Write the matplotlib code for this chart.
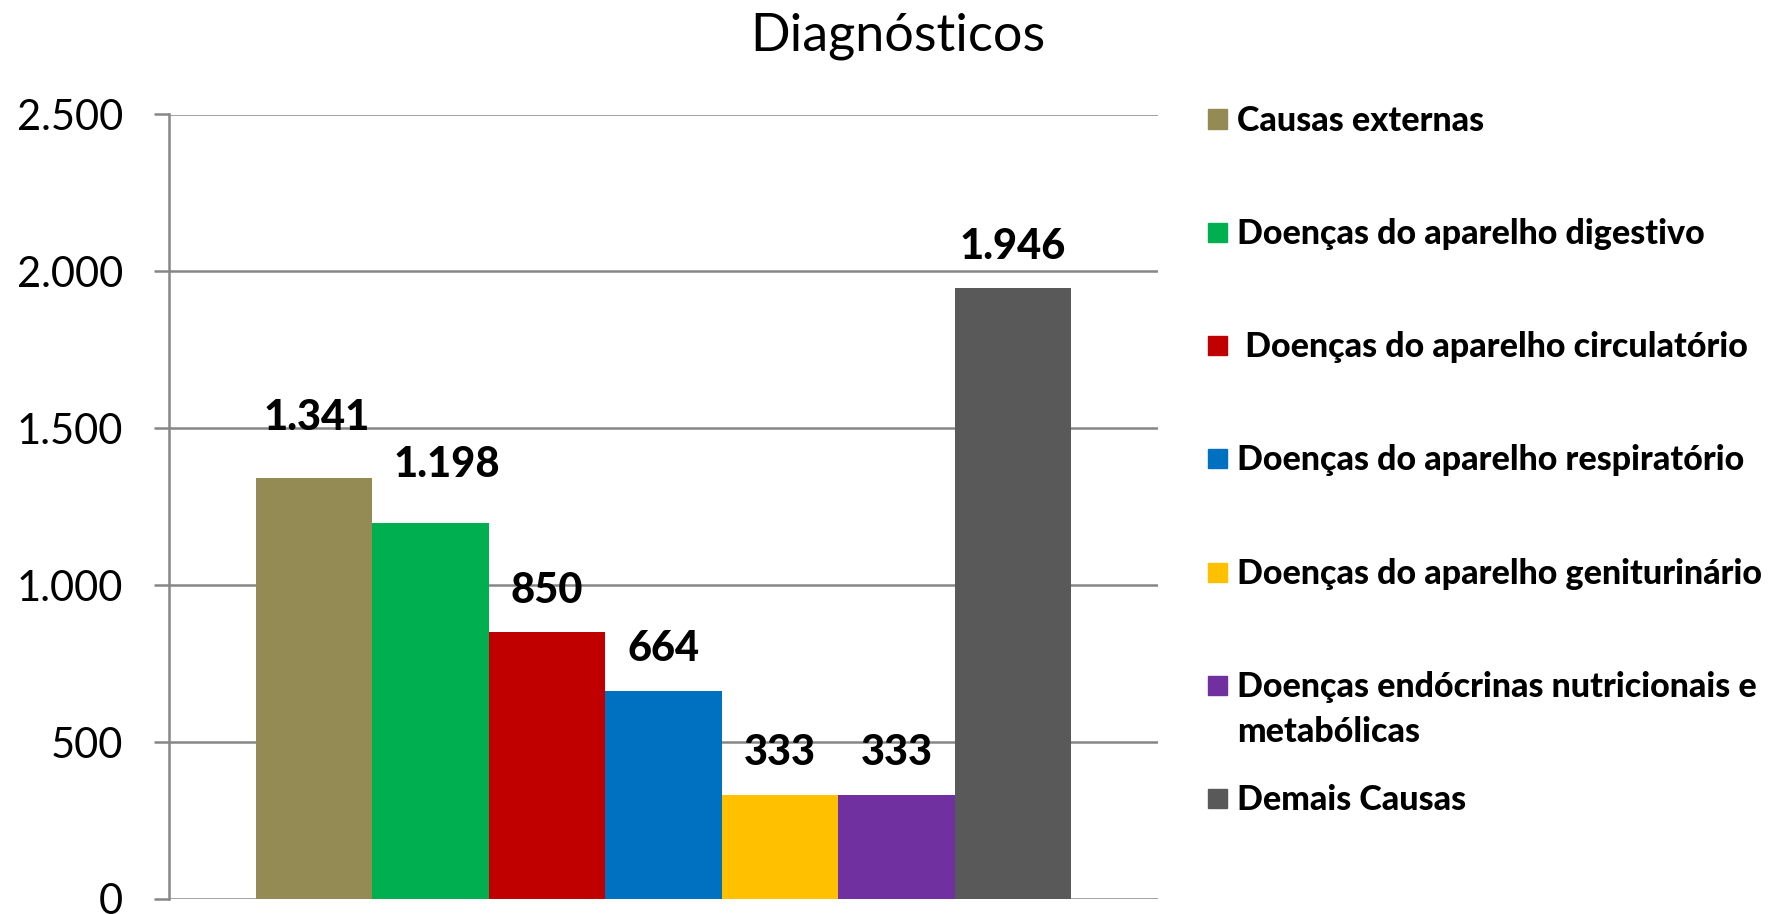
import matplotlib
matplotlib.use("Agg")
import matplotlib.pyplot as plt
from matplotlib.patches import Rectangle

categories = ["Causas externas", "Doenças do aparelho digestivo", " Doenças do aparelho circulatório",
              "Doenças do aparelho respiratório", "Doenças do aparelho geniturinário",
              "Doenças endócrinas nutricionais e\nmetabólicas", "Demais Causas"]
values = [1341, 1198, 850, 664, 333, 333, 1946]
labels = ["1.341", "1.198", "850", "664", "333", "333", "1.946"]
colors = ["#948A54", "#00B050", "#C00000", "#0070C0", "#FFC000", "#7030A0", "#595959"]
yticks = [0, 500, 1000, 1500, 2000, 2500]
ytick_labels = ["0", "500", "1.000", "1.500", "2.000", "2.500"]
label_offsets = [(2, 30), (12, 28), (0, 16), (0, 16), (0, 16), (0, 16), (0, 16)]  # points

W, H = 1777, 914
fig = plt.figure(figsize=(W / 100, H / 100), dpi=100)
plt.rcParams['font.family'] = ['Lato', 'DejaVu Sans']

ax = fig.add_axes([169 / W, 1 - 899 / H, (1158 - 169) / W, (899 - 114.5) / H])
n = len(values)
group = 0.824
bw = group / n
xs = [-group / 2 + bw * (i + 0.5) for i in range(n)]
ax.bar(xs, values, width=bw, color=colors, zorder=3)
for x, v, lab, off in zip(xs, values, labels, label_offsets):
    ax.annotate(lab, (x, v), xytext=off, textcoords="offset points",
                ha="center", va="bottom", fontsize=30, fontweight="black", color="black")

ax.set_xlim(-0.5, 0.5)
ax.set_ylim(0, 2500)
ax.set_yticks(yticks)
ax.set_yticklabels(ytick_labels)
ax.set_xticks([])
ax.grid(axis="y", color="#868686", linewidth=1.8, zorder=0)
for s in ["top", "right", "bottom"]:
    ax.spines[s].set_visible(False)
ax.spines["left"].set_color("#868686")
ax.spines["left"].set_linewidth(1.8)
ax.tick_params(axis="y", length=11, width=1.8, color="#868686", labelsize=30, pad=22)
ax.set_facecolor("white")

fig.text(898 / W, 1 - 36 / H, "Diagnósticos", ha="center", va="center", fontsize=37.5)

# legend
y0 = 119
dy = 113.3
line_h = 45
for i, (c, lab) in enumerate(zip(colors, categories)):
    yc = y0 + dy * i
    fig.patches.append(Rectangle((1208 / W, 1 - (yc + 9.5) / H), 19 / W, 19 / H,
                                 transform=fig.transFigure, color=c))
    for k, line in enumerate(lab.split("\n")):
        fig.text(1237 / W, 1 - (yc + 11.5 + k * line_h) / H, line, ha="left", va="baseline",
                 fontsize=24.5, fontweight="black")

fig.savefig("out.png", dpi=100, facecolor="white")
